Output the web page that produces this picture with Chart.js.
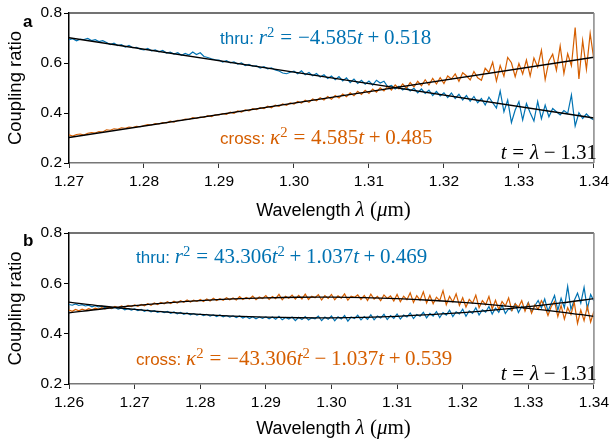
<!DOCTYPE html>
<html>
<head>
<meta charset="utf-8">
<script src="https://cdn.jsdelivr.net/npm/chart.js@4.4.1/dist/chart.umd.min.js"></script>
<style>
  body { margin: 0; background: #fff; }
  #wrap { position: relative; width: 613px; height: 441px; overflow: hidden; }
  canvas { position: absolute; left: 0; }
  .txt { position: absolute; white-space: nowrap; line-height: 20px; }
  .sans { font-family: "Liberation Sans", Arial, sans-serif; font-size: 17px; }
  .m { font-family: "Liberation Serif", serif; font-size: 21px; }
  .m i { font-style: italic; }
  .m sup { font-size: 0.7em; position: relative; top: -0.45em; vertical-align: baseline; line-height: 0; }
  .rel { margin: 0 0.28em; }
  .bin { margin: 0 0.22em; }
  .blue { color: #0072b2; }
  .orange { color: #d55e00; }
  .letter { font-family: "Liberation Sans", Arial, sans-serif; font-weight: bold; font-size: 17px; }
  .xt { font-family: "Liberation Sans", Arial, sans-serif; font-size: 18px; text-align: center; width: 529px; left: 69px; }
</style>
</head>
<body>
<div id="wrap">
  <canvas id="grafA" width="613" height="220" style="top:0"></canvas>
  <canvas id="grafB" width="613" height="221" style="top:220px"></canvas>

  <div class="txt letter" style="left:23px;top:12px">a</div>
  <div class="txt letter" style="left:23px;top:231px">b</div>

  <!-- painel a -->
  <div class="txt blue" style="left:220px;top:27px"><span class="sans">thru: </span><span class="m"><i>r</i><sup>2</sup><span class="rel">=</span>−4.585<i>t</i><span class="bin">+</span>0.518</span></div>
  <div class="txt orange" style="left:220px;top:127px"><span class="sans">cross: </span><span class="m"><i>κ</i><sup>2</sup><span class="rel">=</span>4.585<i>t</i><span class="bin">+</span>0.485</span></div>
  <div class="txt m" style="right:16px;top:142px"><i>t</i><span class="rel">=</span><i>λ</i><span class="bin">−</span>1.31</div>
  <div class="txt xt" style="top:199px">Wavelength <span class="m"><i>λ</i> (<i>μ</i>m)</span></div>

  <!-- painel b -->
  <div class="txt blue" style="left:136px;top:246px"><span class="sans">thru: </span><span class="m"><i>r</i><sup>2</sup><span class="rel">=</span>43.306<i>t</i><sup>2</sup><span class="bin">+</span>1.037<i>t</i><span class="bin">+</span>0.469</span></div>
  <div class="txt orange" style="left:136px;top:348px"><span class="sans">cross: </span><span class="m"><i>κ</i><sup>2</sup><span class="rel">=</span>−43.306<i>t</i><sup>2</sup><span class="bin">−</span>1.037<i>t</i><span class="bin">+</span>0.539</span></div>
  <div class="txt m" style="right:16px;top:363px"><i>t</i><span class="rel">=</span><i>λ</i><span class="bin">−</span>1.31</div>
  <div class="txt xt" style="top:417px">Wavelength <span class="m"><i>λ</i> (<i>μ</i>m)</span></div>
</div>

<script>
// cores das series
var azul = '#0072b2';
var laranja = '#d55e00';

// painel a: comprimento de onda comeca em 1.27 e anda de 0.0005 em 0.0005 (141 pontos)
var inicioA = 1.27;
var passoA = 0.0005;
var thruA = [
  0.693, 0.697, 0.689, 0.695, 0.694, 0.698, 0.690, 0.693, 0.686, 0.689,
  0.682, 0.674, 0.679, 0.670, 0.673, 0.664, 0.670, 0.661, 0.663, 0.655,
  0.652, 0.658, 0.649, 0.652, 0.645, 0.650, 0.640, 0.643, 0.636, 0.641,
  0.631, 0.638, 0.632, 0.644, 0.634, 0.641, 0.626, 0.622, 0.617, 0.613,
  0.612, 0.604, 0.609, 0.601, 0.604, 0.596, 0.600, 0.590, 0.594, 0.587,
  0.589, 0.580, 0.585, 0.577, 0.580, 0.572, 0.568, 0.560, 0.557, 0.563,
  0.567, 0.557, 0.569, 0.553, 0.562, 0.549, 0.558, 0.544, 0.553, 0.538,
  0.548, 0.533, 0.546, 0.528, 0.541, 0.522, 0.536, 0.518, 0.531, 0.515,
  0.528, 0.512, 0.531, 0.520, 0.527, 0.505, 0.510, 0.496, 0.507, 0.492,
  0.503, 0.488, 0.499, 0.481, 0.496, 0.478, 0.491, 0.470, 0.486, 0.468,
  0.481, 0.462, 0.480, 0.458, 0.475, 0.452, 0.470, 0.447, 0.466, 0.441,
  0.458, 0.432, 0.463, 0.441, 0.420, 0.488, 0.405, 0.452, 0.362, 0.412,
  0.445, 0.372, 0.438, 0.401, 0.368, 0.446, 0.377, 0.432, 0.385, 0.418,
  0.405, 0.392, 0.410, 0.398, 0.472, 0.348, 0.401, 0.378, 0.396, 0.381,
  0.372
];
var crossA = [
  0.313, 0.308, 0.314, 0.316, 0.312, 0.319, 0.322, 0.320, 0.326, 0.324,
  0.333, 0.331, 0.337, 0.335, 0.341, 0.339, 0.344, 0.342, 0.347, 0.345,
  0.350, 0.354, 0.352, 0.358, 0.356, 0.362, 0.360, 0.367, 0.364, 0.371,
  0.370, 0.376, 0.374, 0.381, 0.378, 0.384, 0.382, 0.389, 0.386, 0.393,
  0.392, 0.398, 0.395, 0.403, 0.399, 0.408, 0.404, 0.412, 0.409, 0.417,
  0.414, 0.421, 0.418, 0.427, 0.421, 0.431, 0.427, 0.436, 0.431, 0.440,
  0.436, 0.446, 0.440, 0.451, 0.443, 0.456, 0.449, 0.461, 0.452, 0.466,
  0.455, 0.470, 0.460, 0.476, 0.465, 0.481, 0.469, 0.487, 0.474, 0.491,
  0.478, 0.496, 0.483, 0.501, 0.488, 0.507, 0.492, 0.512, 0.497, 0.516,
  0.499, 0.522, 0.504, 0.527, 0.509, 0.533, 0.512, 0.538, 0.516, 0.541,
  0.518, 0.548, 0.536, 0.556, 0.527, 0.561, 0.549, 0.532, 0.566, 0.541,
  0.531, 0.579, 0.562, 0.603, 0.528, 0.590, 0.547, 0.622, 0.601, 0.545,
  0.598, 0.556, 0.612, 0.548, 0.620, 0.584, 0.651, 0.534, 0.608, 0.635,
  0.571, 0.668, 0.558, 0.637, 0.589, 0.742, 0.536, 0.690, 0.575, 0.718,
  0.612
];
// retas ajustadas (pretas) do painel a
var ajusteLamA = [1.27, 1.34];
var ajusteThruA = [0.701, 0.380];
var ajusteCrossA = [0.302, 0.623];

// painel b: comeca em 1.26, passo 0.0005 (161 pontos)
var inicioB = 1.26;
var passoB = 0.0005;
var thruB = [
  0.516, 0.513, 0.518, 0.512, 0.515, 0.510, 0.513, 0.507, 0.511, 0.506,
  0.509, 0.503, 0.506, 0.500, 0.504, 0.498, 0.502, 0.495, 0.499, 0.494,
  0.498, 0.492, 0.496, 0.489, 0.494, 0.487, 0.491, 0.485, 0.489, 0.484,
  0.488, 0.481, 0.486, 0.479, 0.484, 0.477, 0.482, 0.475, 0.480, 0.474,
  0.478, 0.472, 0.477, 0.470, 0.475, 0.468, 0.474, 0.467, 0.472, 0.466,
  0.471, 0.464, 0.470, 0.462, 0.468, 0.460, 0.467, 0.459, 0.466, 0.461,
  0.467, 0.459, 0.466, 0.457, 0.469, 0.455, 0.464, 0.458, 0.466, 0.452,
  0.465, 0.456, 0.468, 0.454, 0.463, 0.459, 0.470, 0.452, 0.466, 0.457,
  0.470, 0.451, 0.467, 0.458, 0.472, 0.450, 0.466, 0.460, 0.473, 0.455,
  0.468, 0.457, 0.475, 0.455, 0.470, 0.462, 0.477, 0.456, 0.472, 0.461,
  0.478, 0.458, 0.474, 0.466, 0.482, 0.460, 0.476, 0.469, 0.485, 0.463,
  0.481, 0.470, 0.488, 0.464, 0.484, 0.474, 0.493, 0.468, 0.487, 0.478,
  0.497, 0.469, 0.491, 0.481, 0.503, 0.474, 0.495, 0.486, 0.508, 0.478,
  0.502, 0.485, 0.513, 0.480, 0.499, 0.492, 0.519, 0.484, 0.508, 0.497,
  0.524, 0.486, 0.511, 0.532, 0.502, 0.538, 0.489, 0.521, 0.552, 0.493,
  0.541, 0.503, 0.588, 0.497, 0.532, 0.561, 0.521, 0.584, 0.498, 0.556,
  0.530
];
var crossB = [
  0.494, 0.489, 0.496, 0.491, 0.497, 0.493, 0.499, 0.495, 0.501, 0.497,
  0.503, 0.499, 0.506, 0.501, 0.508, 0.503, 0.510, 0.505, 0.512, 0.508,
  0.514, 0.509, 0.516, 0.511, 0.519, 0.513, 0.522, 0.516, 0.524, 0.519,
  0.527, 0.520, 0.529, 0.522, 0.531, 0.525, 0.534, 0.526, 0.533, 0.528,
  0.536, 0.528, 0.538, 0.530, 0.541, 0.532, 0.539, 0.533, 0.543, 0.535,
  0.542, 0.534, 0.547, 0.536, 0.544, 0.538, 0.549, 0.535, 0.546, 0.540,
  0.551, 0.536, 0.548, 0.539, 0.556, 0.535, 0.549, 0.541, 0.553, 0.537,
  0.552, 0.538, 0.557, 0.536, 0.549, 0.543, 0.555, 0.534, 0.551, 0.540,
  0.556, 0.535, 0.550, 0.541, 0.558, 0.533, 0.549, 0.544, 0.554, 0.536,
  0.552, 0.532, 0.557, 0.537, 0.548, 0.531, 0.554, 0.540, 0.550, 0.530,
  0.556, 0.527, 0.549, 0.535, 0.562, 0.524, 0.551, 0.533, 0.566, 0.522,
  0.552, 0.519, 0.545, 0.531, 0.571, 0.515, 0.548, 0.526, 0.558, 0.512,
  0.543, 0.506, 0.536, 0.521, 0.553, 0.503, 0.531, 0.515, 0.548, 0.498,
  0.533, 0.496, 0.528, 0.510, 0.542, 0.492, 0.519, 0.505, 0.531, 0.489,
  0.522, 0.481, 0.515, 0.497, 0.531, 0.509, 0.472, 0.508, 0.528, 0.468,
  0.512, 0.458, 0.503, 0.476, 0.525, 0.441, 0.494, 0.452, 0.509, 0.446,
  0.489
];
// curvas ajustadas (quadraticas) do painel b, lidas a cada 0.005
var ajusteLamB = [1.26, 1.265, 1.27, 1.275, 1.28, 1.285, 1.29, 1.295, 1.30, 1.305, 1.31, 1.315, 1.32, 1.325, 1.33, 1.335, 1.34];
var ajusteThruB = [0.5254, 0.5100, 0.4968, 0.4858, 0.4769, 0.4701, 0.4656, 0.4632, 0.4630, 0.4649, 0.4690, 0.4753, 0.4837, 0.4943, 0.5071, 0.5220, 0.5391];
var ajusteCrossB = [0.4826, 0.4980, 0.5112, 0.5223, 0.5311, 0.5379, 0.5424, 0.5448, 0.5450, 0.5431, 0.5390, 0.5327, 0.5243, 0.5137, 0.5009, 0.4860, 0.4689];

var ticksY = [0.2, 0.4, 0.6, 0.8];

// bordas de cima e da direita (o chart.js so desenha esquerda e baixo)
var bordas = {
  id: 'bordas',
  afterDraw: function (chart) {
    var ctx = chart.ctx;
    var a = chart.chartArea;
    ctx.save();
    ctx.lineWidth = 1.5;
    ctx.strokeStyle = '#444';
    ctx.beginPath();
    ctx.moveTo(a.left, a.top);
    ctx.lineTo(a.right, a.top);
    ctx.stroke();
    ctx.strokeStyle = '#888';
    ctx.beginPath();
    ctx.moveTo(a.right, a.top);
    ctx.lineTo(a.right, a.bottom);
    ctx.stroke();
    ctx.restore();
  }
};

function pontos(xs, ys) {
  return ys.map(function (y, i) { return { x: xs[i], y: y }; });
}
function serie(inicio, passo, ys) {
  return ys.map(function (y, i) { return { x: inicio + i * passo, y: y }; });
}

function plotarPainel(id, xMin, xMax, thru, cross, ajLam, ajThru, ajCross) {
  var fonte = { family: 'Liberation Sans', size: 15.5 };
  return new Chart(document.getElementById(id), {
    type: 'line',
    data: {
      datasets: [
        { data: pontos(ajLam, ajThru), borderColor: '#000', borderWidth: 1.3, pointRadius: 0, tension: 0.4, order: 0 },
        { data: pontos(ajLam, ajCross), borderColor: '#000', borderWidth: 1.3, pointRadius: 0, tension: 0.4, order: 0 },
        { data: thru, borderColor: azul, borderWidth: 1.2, pointRadius: 0, tension: 0, order: 2 },
        { data: cross, borderColor: laranja, borderWidth: 1.2, pointRadius: 0, tension: 0, order: 1 }
      ]
    },
    options: {
      responsive: false,
      animation: false,
      events: [],
      layout: { padding: { top: 13, right: 15, left: 0, bottom: 0 } },
      plugins: { legend: { display: false }, tooltip: { enabled: false } },
      scales: {
        x: {
          type: 'linear', min: xMin, max: xMax,
          afterFit: function (s) { s.height = 57; },
          ticks: {
            stepSize: 0.01, autoSkip: false, maxRotation: 0, padding: 4, color: '#000', font: fonte,
            callback: function (v) { return v.toFixed(2); }
          },
          grid: { drawOnChartArea: false, drawTicks: true, tickLength: 5, color: '#333' },
          border: { color: '#777', width: 1.5 }
        },
        y: {
          min: 0.2, max: 0.8,
          afterFit: function (s) { s.width = 69; },
          afterBuildTicks: function (s) { s.ticks = ticksY.map(function (v) { return { value: v }; }); },
          ticks: {
            padding: 2, color: '#000', font: fonte,
            callback: function (v) { return v.toFixed(1); }
          },
          grid: { drawOnChartArea: false, drawTicks: true, tickLength: 5, color: '#000' },
          border: { color: '#000', width: 1.5 },
          title: {
            display: true, text: 'Coupling ratio', color: '#000',
            font: { family: 'Liberation Sans', size: 18.5 }, padding: { top: 5, bottom: 0 }
          }
        }
      }
    },
    plugins: [bordas]
  });
}

plotarPainel('grafA', 1.27, 1.34, serie(inicioA, passoA, thruA), serie(inicioA, passoA, crossA), ajusteLamA, ajusteThruA, ajusteCrossA);
plotarPainel('grafB', 1.26, 1.34, serie(inicioB, passoB, thruB), serie(inicioB, passoB, crossB), ajusteLamB, ajusteThruB, ajusteCrossB);
</script>
</body>
</html>
